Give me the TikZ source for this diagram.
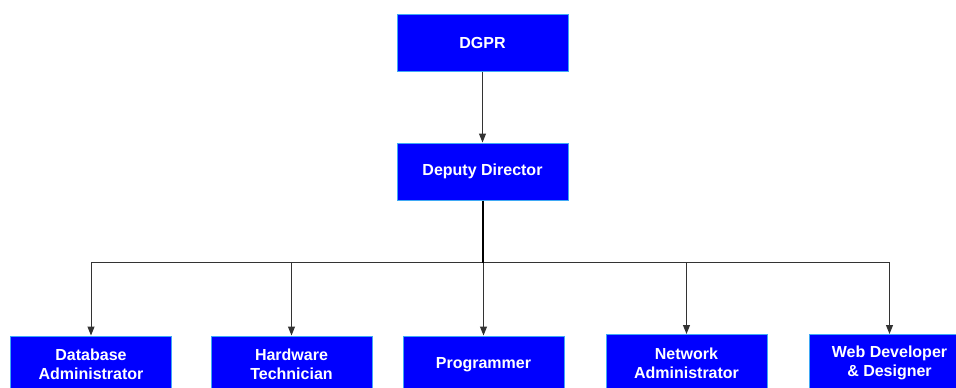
\documentclass[tikz,border=0pt]{standalone}
\usepackage{fontspec}
\setmainfont{Liberation Sans}
\usetikzlibrary{arrows.meta}
\definecolor{boxfill}{HTML}{0000FF}
\definecolor{boxline}{HTML}{3FA9F5}
\definecolor{linegray}{HTML}{333333}
\tikzset{
  orgbox/.style={draw=boxline, line width=1pt, fill=boxfill, text=white,
    font=\bfseries\fontsize{16}{19}\selectfont, align=center,
    inner sep=0pt, minimum height=57pt},
  topbox/.style={orgbox, minimum width=171pt},
  lowbox/.style={orgbox, minimum width=161pt},
  link/.style={draw=linegray, line width=1pt, -{Triangle[length=9pt,width=7pt]}},
  stem/.style={draw=black, line width=2pt},
  busline/.style={draw=linegray, line width=1.3pt}
}
\begin{document}
\begin{tikzpicture}[x=1pt,y=-1pt]
\path[use as bounding box, clip] (0,0) rectangle (956,388);
\fill[white] (0,0) rectangle (956,388);
\node[topbox] (dgpr) at (482.5,42.5) {DGPR};
\node[topbox] (dep) at (482.5,171.5) {Deputy Director};
\node[lowbox] (db) at (91,364.5) {Database\\Administrator};
\node[lowbox] (hw) at (291.5,364.5) {Hardware\\Technician};
\node[lowbox] (pr) at (483.5,364.5) {Programmer};
\node[lowbox] (na) at (686.5,363) {Network\\Administrator};
\node[lowbox] (web) at (889.5,363) {Web Developer\\\& Designer};
\coordinate (bus) at (482.5,262.5);
\draw[link] (dgpr) -- (dep);
\draw[busline] (bus -| db.north) -- (bus -| web.north);
\draw[stem] (dep.south) -- (bus);
\draw[link] (bus -| db.north) -- (db.north);
\draw[link] (bus -| hw.north) -- (hw.north);
\draw[link] (bus -| pr.north) -- (pr.north);
\draw[link] (bus -| na.north) -- (na.north);
\draw[link] (bus -| web.north) -- (web.north);
\end{tikzpicture}
\end{document}
